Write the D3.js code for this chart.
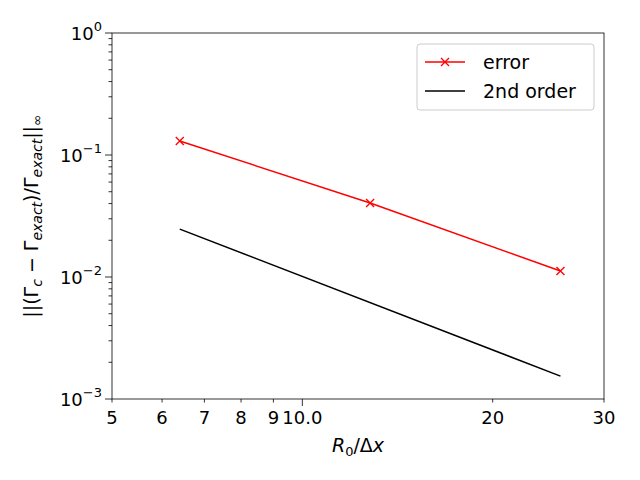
<!DOCTYPE html><html><head><script src="https://cdn.jsdelivr.net/npm/d3@7"></script>
<style>body{margin:0;background:#fff}text{font-family:"DejaVu Sans";fill:#000}</style></head><body>
<svg id="c" width="640" height="480"></svg>
<script>
const errX=[6.4,12.8,25.6], errY=[0.1303,0.0404,0.0112];
const ordX=[6.4,25.6], ordY=[0.0247,0.00154];
const xTicks=[5,6,7,8,9,10,20,30], xTickLabels=["5","6","7","8","9","10.0","20","30"];
const yMajor=[0.001,0.01,0.1,1], yExp=["−3","−2","−1","0"];
const m={l:112,r:604,t:33,b:399};
const svg=d3.select("#c");
const x=d3.scaleLog().domain([5,30]).range([m.l,m.r]);
const y=d3.scaleLog().domain([0.001,1]).range([m.b,m.t]);
const g=svg.append("g");
const yMinor=[];[0.001,0.01,0.1].forEach(d=>{for(let k=2;k<10;k++)yMinor.push(d*k);});
g.selectAll(".ym").data(yMinor).join("line").attr("x1",m.l).attr("x2",m.l-3.5).attr("y1",d=>y(d)).attr("y2",d=>y(d)).attr("stroke","#000").attr("stroke-width",0.8);
g.selectAll(".yM").data(yMajor).join("line").attr("x1",m.l).attr("x2",m.l-7).attr("y1",d=>y(d)).attr("y2",d=>y(d)).attr("stroke","#000").attr("stroke-width",0.8);
yMajor.forEach((d,i)=>{const t=g.append("text").attr("x",m.l-10).attr("y",y(d)+7).attr("text-anchor","end").attr("font-size",18);
t.append("tspan").text("10");t.append("tspan").attr("dy",-9).attr("font-size",13).text(yExp[i]);});
xTicks.forEach((d,i)=>{const L=d===10?7:3.5;
g.append("line").attr("x1",x(d)).attr("x2",x(d)).attr("y1",m.b).attr("y2",m.b+L).attr("stroke","#000").attr("stroke-width",0.8);
g.append("text").attr("x",x(d)).attr("y",m.b+25).attr("text-anchor","middle").attr("font-size",18).text(xTickLabels[i]);});
const line=d3.line().x(d=>x(d[0])).y(d=>y(d[1]));
g.append("path").attr("d",line(ordX.map((v,i)=>[v,ordY[i]]))).attr("fill","none").attr("stroke","#000").attr("stroke-width",1.5);
g.append("path").attr("d",line(errX.map((v,i)=>[v,errY[i]]))).attr("fill","none").attr("stroke","red").attr("stroke-width",1.5);
const mk=(cx,cy)=>g.append("path").attr("d",`M${cx-4},${cy-4}L${cx+4},${cy+4}M${cx-4},${cy+4}L${cx+4},${cy-4}`).attr("stroke","red").attr("stroke-width",1.3);
errX.forEach((v,i)=>mk(x(v),y(errY[i])));
g.append("rect").attr("x",m.l).attr("y",m.t).attr("width",m.r-m.l).attr("height",m.b-m.t).attr("fill","none").attr("stroke","#000").attr("stroke-width",0.8);
g.append("rect").attr("x",417).attr("y",44).attr("width",177).attr("height",66).attr("rx",3).attr("fill","#fff").attr("stroke","#ccc");
g.append("line").attr("x1",425).attr("x2",465).attr("y1",62).attr("y2",62).attr("stroke","red").attr("stroke-width",1.5);
mk(445,62);
g.append("text").attr("x",483).attr("y",69).attr("font-size",19).text("error");
g.append("line").attr("x1",425).attr("x2",465).attr("y1",91).attr("y2",91).attr("stroke","#000").attr("stroke-width",1.5);
g.append("text").attr("x",483).attr("y",98).attr("font-size",19).text("2nd order");
const xl=g.append("text").attr("x",358).attr("y",452).attr("text-anchor","middle").attr("font-size",19);
xl.append("tspan").attr("font-style","italic").text("R");xl.append("tspan").attr("dy",4).attr("font-size",13).text("0");
xl.append("tspan").attr("dy",-4).text("/Δ");xl.append("tspan").attr("font-style","italic").text("x");
const yl=g.append("text").attr("transform","translate(38,216) rotate(-90)").attr("text-anchor","middle").attr("font-size",19);
yl.append("tspan").text("||(Γ");yl.append("tspan").attr("dy",4).attr("font-size",14).attr("font-style","italic").text("c");
yl.append("tspan").attr("dy",-4).text(" − Γ");yl.append("tspan").attr("dy",4).attr("font-size",14).attr("font-style","italic").text("exact");
yl.append("tspan").attr("dy",-4).text(")/Γ");yl.append("tspan").attr("dy",4).attr("font-size",14).attr("font-style","italic").text("exact");
yl.append("tspan").attr("dy",-4).text("||");yl.append("tspan").attr("dy",4).attr("font-size",14).text("∞");
</script></body></html>
